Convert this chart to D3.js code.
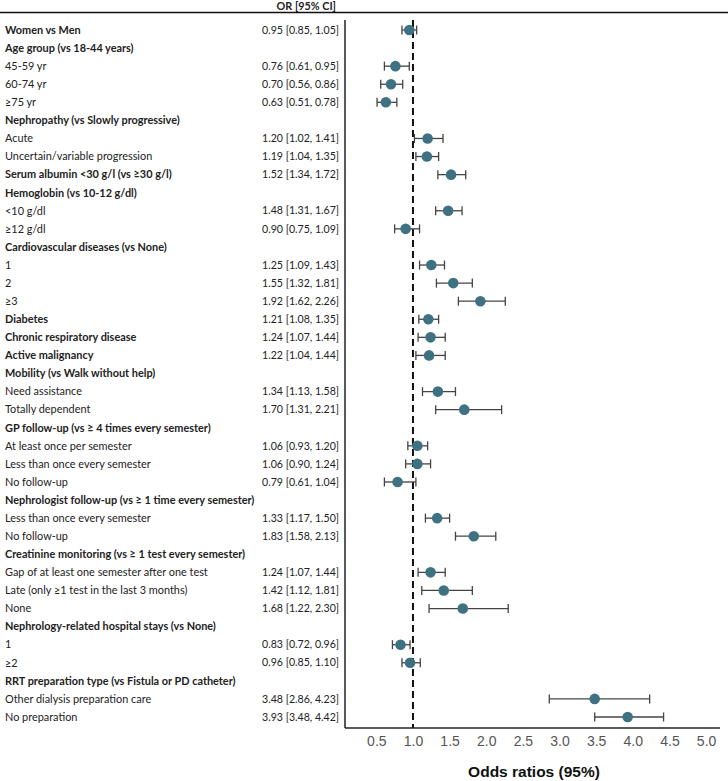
<!DOCTYPE html>
<html>
<head>
<meta charset="utf-8">
<script src="https://cdn.jsdelivr.net/npm/d3@7"></script>
<style>
  body { margin: 0; background: #fff; }
</style>
</head>
<body>
<script>
const WIDTH = 728;
const HEIGHT = 781;

// row labels, top to bottom
const labels = [
  "Women vs Men", "Age group (vs 18-44 years)", "45-59 yr", "60-74 yr", "≥75 yr",
  "Nephropathy (vs Slowly progressive)", "Acute", "Uncertain/variable progression",
  "Serum albumin <30 g/l (vs ≥30 g/l)", "Hemoglobin (vs 10-12 g/dl)", "<10 g/dl", "≥12 g/dl",
  "Cardiovascular diseases (vs None)", "1", "2", "≥3",
  "Diabetes", "Chronic respiratory disease", "Active malignancy",
  "Mobility (vs Walk without help)", "Need assistance", "Totally dependent",
  "GP follow-up (vs ≥ 4 times every semester)", "At least once per semester",
  "Less than once every semester", "No follow-up",
  "Nephrologist follow-up (vs ≥ 1 time every semester)", "Less than once every semester", "No follow-up",
  "Creatinine monitoring (vs ≥ 1 test every semester)", "Gap of at least one semester after one test",
  "Late (only ≥1 test in the last 3 months)", "None",
  "Nephrology-related hospital stays (vs None)", "1", "≥2",
  "RRT preparation type (vs Fistula or PD catheter)", "Other dialysis preparation care", "No preparation"
];
// 1 = bold heading row
const bold = [1,1,0,0,0, 1,0,0, 1,1,0,0, 1,0,0,0, 1,1,1, 1,0,0, 1,0,0,0, 1,0,0, 1,0,0,0, 1,0,0, 1,0,0];
// odds ratio and 95% CI (null = heading without estimate)
const or   = [0.95,null,0.76,0.70,0.63, null,1.20,1.19, 1.52,null,1.48,0.90, null,1.25,1.55,1.92, 1.21,1.24,1.22, null,1.34,1.70, null,1.06,1.06,0.79, null,1.33,1.83, null,1.24,1.42,1.68, null,0.83,0.96, null,3.48,3.93];
const lo   = [0.85,null,0.61,0.56,0.51, null,1.02,1.04, 1.34,null,1.31,0.75, null,1.09,1.32,1.62, 1.08,1.07,1.04, null,1.13,1.31, null,0.93,0.90,0.61, null,1.17,1.58, null,1.07,1.12,1.22, null,0.72,0.85, null,2.86,3.48];
const hi   = [1.05,null,0.95,0.86,0.78, null,1.41,1.35, 1.72,null,1.67,1.09, null,1.43,1.81,2.26, 1.35,1.44,1.44, null,1.58,2.21, null,1.20,1.24,1.04, null,1.50,2.13, null,1.44,1.81,2.30, null,0.96,1.10, null,4.23,4.42];
const xTicks = [0.5, 1.0, 1.5, 2.0, 2.5, 3.0, 3.5, 4.0, 4.5, 5.0];

const svg = d3.select("body").append("svg")
  .attr("width", WIDTH)
  .attr("height", HEIGHT);

// plot geometry
const plotLeft = 345, plotRight = 720, axisY = 728;
const x = d3.scaleLinear().domain([0.0725, 5.19]).range([plotLeft, plotRight]);
const y = d3.scalePoint().domain(d3.range(labels.length)).range([30, 717]);

const fmt = d3.format(".2f");
const textFont = "Lato, 'Open Sans', sans-serif";

// header
svg.append("text")
  .attr("x", 336).attr("y", 10)
  .attr("text-anchor", "end")
  .attr("font-family", textFont).attr("font-size", 10.8).attr("font-weight", "bold")
  .attr("fill", "#222")
  .text("OR [95% CI]");
svg.append("line")
  .attr("x1", 0).attr("x2", WIDTH).attr("y1", 12.5).attr("y2", 12.5)
  .attr("stroke", "#111").attr("stroke-width", 1.5);

// row labels and estimates
const rows = svg.append("g").attr("font-family", textFont).attr("font-size", 10.9).attr("fill", "#222");
rows.selectAll("text.lab").data(labels).join("text")
  .attr("class", "lab")
  .attr("x", 5)
  .attr("y", (d, i) => y(i))
  .attr("dy", "0.35em")
  .attr("font-weight", (d, i) => bold[i] ? "bold" : "normal")
  .text(d => d);
rows.selectAll("text.val").data(d3.range(labels.length).filter(i => or[i] !== null)).join("text")
  .attr("class", "val")
  .attr("x", 262)
  .attr("y", i => y(i))
  .attr("dy", "0.35em")
  .attr("font-size", 10.6)
  .text(i => fmt(or[i]) + " [" + fmt(lo[i]) + ", " + fmt(hi[i]) + "]");

// axes
svg.append("line")
  .attr("x1", plotLeft).attr("x2", plotLeft).attr("y1", 20).attr("y2", axisY)
  .attr("stroke", "#222").attr("stroke-width", 1.5);
const xAxis = svg.append("g")
  .attr("transform", `translate(0,${axisY})`)
  .call(d3.axisBottom(x).tickValues(xTicks).tickFormat(d3.format(".1f")).tickSize(0).tickPadding(8));
xAxis.select(".domain").attr("stroke", "#222").attr("stroke-width", 1.5)
  .attr("d", `M${plotLeft},0H${plotRight}`);
xAxis.selectAll("text")
  .attr("font-family", "'Liberation Sans', Arial, sans-serif")
  .attr("font-size", 14).attr("fill", "#555");

svg.append("text")
  .attr("x", 534).attr("y", 777)
  .attr("text-anchor", "middle")
  .attr("font-family", "'Liberation Sans', Arial, sans-serif")
  .attr("font-size", 15.5).attr("font-weight", "bold").attr("fill", "#111")
  .text("Odds ratios (95%)");

// reference line at OR = 1
svg.append("line")
  .attr("x1", x(1)).attr("x2", x(1)).attr("y1", 20).attr("y2", axisY)
  .attr("stroke", "#111").attr("stroke-width", 2).attr("stroke-dasharray", "7,4");

// confidence intervals and points
const est = d3.range(labels.length).filter(i => or[i] !== null);
const marks = svg.append("g");
marks.selectAll("line.ci").data(est).join("line")
  .attr("class", "ci")
  .attr("x1", i => x(lo[i])).attr("x2", i => x(hi[i]))
  .attr("y1", i => y(i)).attr("y2", i => y(i))
  .attr("stroke", "#444").attr("stroke-width", 1.3);
["lo", "hi"].forEach(side => {
  marks.selectAll("line.cap-" + side).data(est).join("line")
    .attr("class", "cap-" + side)
    .attr("x1", i => x(side === "lo" ? lo[i] : hi[i]))
    .attr("x2", i => x(side === "lo" ? lo[i] : hi[i]))
    .attr("y1", i => y(i) - 4.5).attr("y2", i => y(i) + 4.5)
    .attr("stroke", "#444").attr("stroke-width", 1.3);
});
marks.selectAll("circle").data(est).join("circle")
  .attr("cx", i => x(or[i]))
  .attr("cy", i => y(i))
  .attr("r", 5.3)
  .attr("fill", "#3e7283");
</script>
</body>
</html>
